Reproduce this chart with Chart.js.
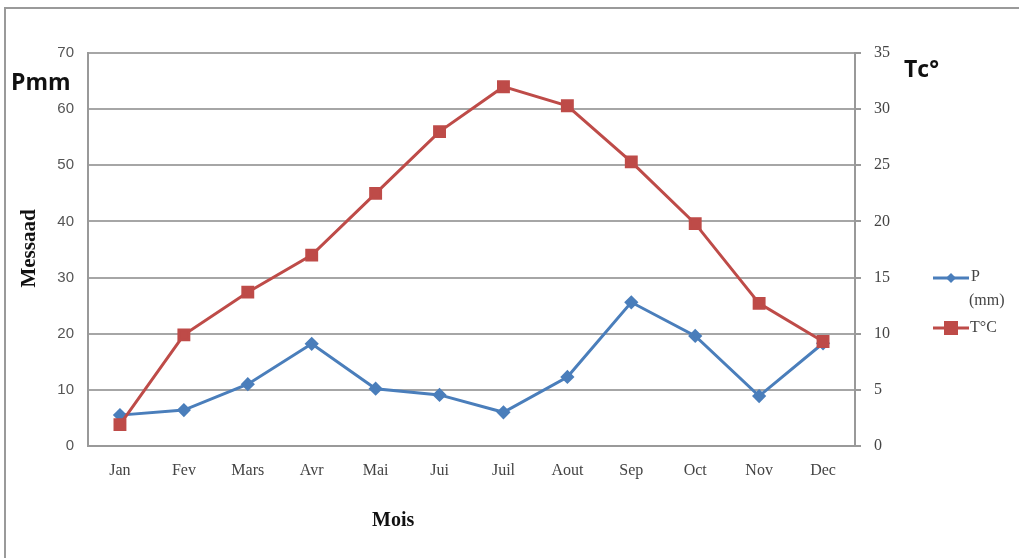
<!DOCTYPE html>
<html>
<head>
<meta charset="utf-8">
<script src="https://cdn.jsdelivr.net/npm/chart.js@4.4.1/dist/chart.umd.min.js"></script>
<style>
  html, body { margin: 0; padding: 0; background: #fff; }
  #wrap { position: relative; width: 1019px; height: 558px; overflow: hidden; }
  #frame { position: absolute; left: 4px; top: 7px; width: 1030px; height: 560px; border: 2px solid #9a9a9a; box-sizing: border-box; }
  canvas { position: absolute; left: 0; top: 0; }
  .lbl { position: absolute; color: #111; white-space: nowrap; }
  .sans { font-family: "Open Sans", "Liberation Sans", sans-serif; font-weight: bold; font-size: 23px; }
  .serif { font-family: "Liberation Serif", serif; font-weight: bold; }
  .leg { position: absolute; font-family: "Liberation Serif", serif; font-size: 16px; color: #444; }
</style>
</head>
<body>
<div id="wrap">
  <div id="frame"></div>
  <canvas id="c" width="1019" height="558"></canvas>
  <div class="lbl sans" style="left:11px; top:65px;">Pmm</div>
  <div class="lbl sans" style="left:904px; top:52px;">Tc°</div>
  <div class="lbl serif" style="left:-11px; top:236px; font-size:21px; transform: rotate(-90deg);">Messaad</div>
  <div class="lbl serif" style="left:372px; top:508px; font-size:20px;">Mois</div>
  <div class="leg" style="left:971px; top:267px;">P</div>
  <div class="leg" style="left:969px; top:291px;">(mm)</div>
  <div class="leg" style="left:970px; top:318px;">T°C</div>
  <canvas id="legP" width="40" height="14" style="left:931px; top:271px;"></canvas>
  <canvas id="legT" width="40" height="16" style="left:931px; top:320px;"></canvas>
</div>
<script>
const months = ["Jan", "Fev", "Mars", "Avr", "Mai", "Jui", "Juil", "Aout", "Sep", "Oct", "Nov", "Dec"];
const precip = [5.5, 6.4, 11, 18.2, 10.2, 9.1, 6, 12.3, 25.6, 19.6, 8.9, 18.3];
const temp = [1.9, 9.9, 13.7, 17, 22.5, 28, 32, 30.3, 25.3, 19.8, 12.7, 9.3];
const blue = "#4a7ebb";
const red = "#be4b48";
const tickFont = { family: "Liberation Serif", size: 16 };
const leftFont = { family: "Liberation Sans", size: 15 };

function legendMark(id, color, style, r) {
  const ctx = document.getElementById(id).getContext("2d");
  const h = ctx.canvas.height / 2;
  ctx.strokeStyle = color;
  ctx.lineWidth = 3;
  ctx.beginPath();
  ctx.moveTo(2, h);
  ctx.lineTo(38, h);
  ctx.stroke();
  ctx.fillStyle = color;
  ctx.beginPath();
  if (style === "diamond") {
    ctx.moveTo(20, h - r); ctx.lineTo(20 + r, h); ctx.lineTo(20, h + r); ctx.lineTo(20 - r, h);
  } else {
    ctx.rect(20 - r, h - r, r * 2, r * 2);
  }
  ctx.fill();
}

new Chart(document.getElementById("c"), {
  type: "line",
  data: {
    labels: months,
    datasets: [
      {
        label: "P (mm)",
        data: precip,
        yAxisID: "y",
        order: 1,
        borderColor: blue,
        backgroundColor: blue,
        borderWidth: 3,
        pointStyle: "rectRot",
        pointRadius: 5,
        tension: 0
      },
      {
        label: "T°C",
        data: temp,
        yAxisID: "y1",
        order: 0,
        borderColor: red,
        backgroundColor: red,
        borderWidth: 3,
        pointStyle: "rect",
        pointRadius: 7,
        tension: 0
      }
    ]
  },
  options: {
    responsive: false,
    animation: false,
    layout: { padding: { top: 53, left: 0, right: 0, bottom: 0 } },
    plugins: { legend: { display: false }, tooltip: { enabled: false } },
    scales: {
      x: {
        offset: true,
        grid: { display: false, drawTicks: false },
        border: { color: "#999", width: 2 },
        ticks: { color: "#444", font: tickFont, padding: 15, maxRotation: 0 },
        afterFit: (s) => { s.height = 112; }
      },
      y: {
        position: "left",
        min: 0,
        max: 70,
        ticks: { stepSize: 10, color: "#555", font: leftFont, padding: 14 },
        grid: { color: "#a6a6a6", lineWidth: 2, drawTicks: false },
        border: { color: "#999", width: 2 },
        afterFit: (s) => { s.width = 88; }
      },
      y1: {
        position: "right",
        min: 0,
        max: 35,
        ticks: { stepSize: 5, color: "#444", font: tickFont, padding: 13 },
        grid: { drawOnChartArea: false, drawTicks: true, tickLength: 6, color: "#999", lineWidth: 2 },
        border: { color: "#999", width: 2 },
        afterFit: (s) => { s.width = 164; }
      }
    }
  }
});

legendMark("legP", blue, "diamond", 5);
legendMark("legT", red, "square", 7);
</script>
</body>
</html>
